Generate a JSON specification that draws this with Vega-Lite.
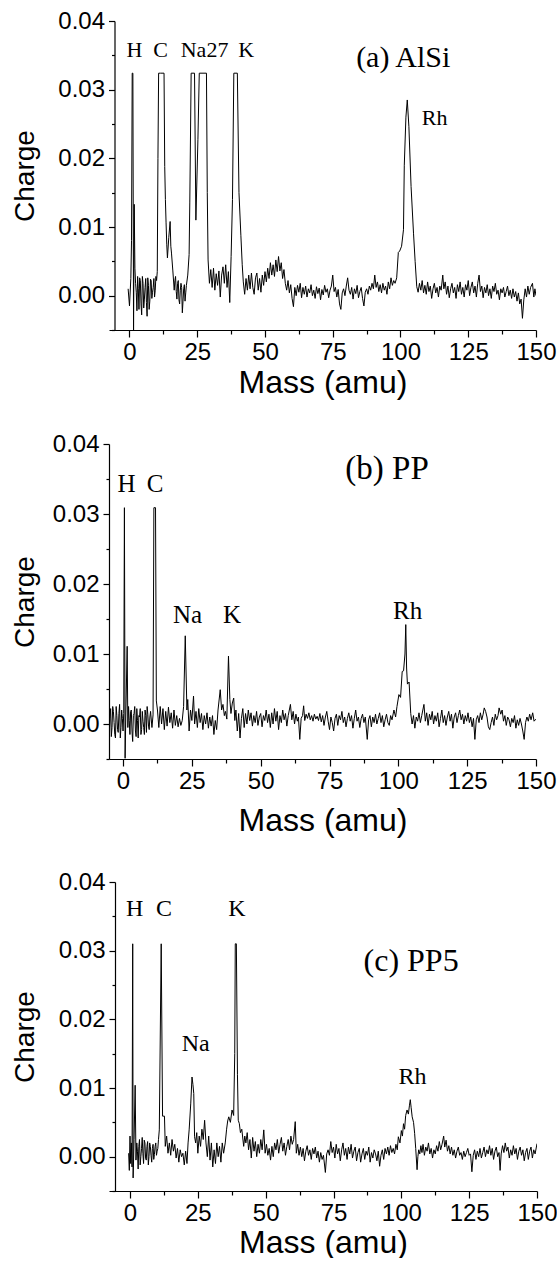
{
"$schema": "https://vega.github.io/schema/vega-lite/v6.json",
"background": "white",
"padding": {"left": 11, "top": 9, "right": 0, "bottom": 0},
"config": {
 "view": {"stroke": null},
 "axis": {"domainColor": "black", "tickColor": "black", "labelColor": "black", "titleColor": "black", "labelFont": "Liberation Sans", "titleFont": "Liberation Sans", "labelFontSize": 24, "titleFontWeight": "normal", "grid": false, "domainWidth": 1.2, "tickWidth": 1.2, "labelFlush": false, "labelOverlap": false}
},
"datasets": {
 "a": [
{"m":-0.5,"q":0.001},{"m":0,"q":-0.0015},{"m":0.5,"q":0.0025},{"m":0.75,"q":0.008},{"m":1,"q":0.0324},{"m":1.25,"q":0.0324},{"m":1.5,"q":-0.0052},{"m":1.75,"q":0.0133},{"m":2,"q":0.004},{"m":2.5,"q":0.0005},{"m":3,"q":0.0028},{"m":3.5,"q":-0.002},{"m":4,"q":0.0022},{"m":4.5,"q":-0.0028},{"m":5,"q":0.0018},{"m":5.5,"q":-0.0005},{"m":6,"q":0.0025},{"m":6.5,"q":-0.003},{"m":7,"q":0.0015},{"m":7.5,"q":-0.0008},{"m":8,"q":0.0022},{"m":8.5,"q":0.0005},{"m":9,"q":0.0025},{"m":9.5,"q":0.0008},{"m":10,"q":0.0022},{"m":10.25,"q":0.0035},{"m":10.5,"q":0.02},{"m":10.75,"q":0.0324},{"m":11.5,"q":0.0324},{"m":12.75,"q":0.0324},{"m":13,"q":0.0188},{"m":13.25,"q":0.014},{"m":13.5,"q":0.0106},{"m":13.75,"q":0.0075},{"m":14,"q":0.0055},{"m":14.5,"q":0.0085},{"m":15,"q":0.0108},{"m":15.25,"q":0.0072},{"m":15.5,"q":0.0062},{"m":16,"q":0.0036},{"m":16.5,"q":0.0008},{"m":17,"q":0.0028},{"m":17.5,"q":-0.0005},{"m":18,"q":0.0022},{"m":18.5,"q":-0.0012},{"m":19,"q":0.0018},{"m":19.5,"q":-0.0025},{"m":20,"q":0.001},{"m":20.5,"q":-0.0008},{"m":21,"q":0.0015},{"m":21.5,"q":0.003},{"m":22,"q":0.006},{"m":22.25,"q":0.0135},{"m":22.75,"q":0.0324},{"m":24,"q":0.0324},{"m":24.5,"q":0.011},{"m":25.25,"q":0.0227},{"m":25.75,"q":0.0324},{"m":28.4,"q":0.0324},{"m":28.7,"q":0.015},{"m":29,"q":0.0052},{"m":29.5,"q":0.0018},{"m":30,"q":0.0038},{"m":30.5,"q":0.0012},{"m":31,"q":0.004},{"m":31.5,"q":0.0008},{"m":32,"q":0.0032},{"m":32.5,"q":0.0015},{"m":33,"q":0.0036},{"m":33.5,"q":-0.0002},{"m":34,"q":0.003},{"m":34.5,"q":0.0042},{"m":35,"q":0.0018},{"m":35.5,"q":0.0045},{"m":36,"q":0.0012},{"m":36.5,"q":0.0035},{"m":37,"q":-0.001},{"m":37.5,"q":0.0057},{"m":38,"q":0.014},{"m":38.5,"q":0.0324},{"m":39.8,"q":0.0324},{"m":40.4,"q":0.015},{"m":41.1,"q":0.0088},{"m":41.6,"q":0.0045},{"m":42,"q":0.002},{"m":42.5,"q":0.0002},{"m":43,"q":0.0025},{"m":43.5,"q":0.0008},{"m":44,"q":0.003},{"m":44.5,"q":0.001},{"m":45,"q":0.0033},{"m":45.5,"q":0.0012},{"m":46,"q":0.0002},{"m":46.5,"q":0.0026},{"m":47,"q":0.0033},{"m":47.5,"q":0.0008},{"m":48,"q":0.0025},{"m":48.5,"q":0.0005},{"m":49,"q":0.003},{"m":49.5,"q":0.0015},{"m":50,"q":0.0035},{"m":50.5,"q":0.002},{"m":51,"q":0.004},{"m":51.5,"q":0.0025},{"m":52,"q":0.0048},{"m":52.5,"q":0.003},{"m":53,"q":0.0045},{"m":53.5,"q":0.0028},{"m":54,"q":0.0052},{"m":54.5,"q":0.0035},{"m":55,"q":0.0057},{"m":55.5,"q":0.0036},{"m":56,"q":0.0048},{"m":56.5,"q":0.0025},{"m":57,"q":0.0038},{"m":57.5,"q":0.0018},{"m":58,"q":0.0008},{"m":58.5,"q":0.0022},{"m":59,"q":0.0004},{"m":59.5,"q":0.0016},{"m":60,"q":-0.0004},{"m":60.5,"q":-0.0016},
{"m":61,"q":0.0012},{"m":61.5,"q":0},{"m":62,"q":0.0015},{"m":62.5,"q":0.0005},{"m":63,"q":0.0018},{"m":63.5,"q":-0.0003},{"m":64,"q":0.0012},{"m":64.5,"q":0.0002},{"m":65,"q":0.0014},{"m":65.5,"q":-0.0002},{"m":66,"q":0.001},{"m":66.5,"q":0.0004},{"m":67,"q":0.0016},{"m":67.5,"q":0},{"m":68,"q":0.0008},{"m":68.5,"q":-0.0004},{"m":69,"q":0.0013},{"m":69.5,"q":0.0003},{"m":70,"q":0.0011},{"m":70.5,"q":-0.0006},{"m":71,"q":0.0009},{"m":71.5,"q":0.0001},{"m":72,"q":0.0015},{"m":72.5,"q":0.0005},{"m":73,"q":0.001},{"m":73.5,"q":-0.0003},{"m":74,"q":0.0008},{"m":74.5,"q":0.0014},{"m":75,"q":0.003},{"m":75.5,"q":0.0006},{"m":76,"q":0.0012},{"m":76.5,"q":-0.0002},{"m":77,"q":0.0009},{"m":77.5,"q":-0.0012},{"m":78,"q":-0.002},{"m":78.5,"q":0.0004},{"m":79,"q":0.001},{"m":79.5,"q":0},{"m":80,"q":0.0014},{"m":80.5,"q":0.0026},{"m":81,"q":0.0008},{"m":81.5,"q":0.0002},{"m":82,"q":0.0012},{"m":82.5,"q":-0.0005},{"m":83,"q":0.001},{"m":83.5,"q":0.0003},{"m":84,"q":0.0015},{"m":84.5,"q":-0.0003},{"m":85,"q":0.0006},{"m":85.5,"q":0.0012},{"m":86,"q":-0.0004},{"m":86.5,"q":-0.0015},{"m":87,"q":0.0005},{"m":87.5,"q":0.001},{"m":88,"q":0.0002},{"m":88.5,"q":0.0014},{"m":89,"q":0.0008},{"m":89.5,"q":0.0018},{"m":90,"q":0.001},{"m":90.5,"q":0.003},{"m":91,"q":0.0012},{"m":91.5,"q":0.002},{"m":92,"q":0.0006},{"m":92.5,"q":0.0016},{"m":93,"q":0.0004},{"m":93.5,"q":0.0018},{"m":94,"q":0.0008},{"m":94.5,"q":0.0014},{"m":95,"q":0.0002},{"m":95.5,"q":0.002},{"m":96,"q":0.001},{"m":96.5,"q":0.0026},{"m":97,"q":0.0015},{"m":97.5,"q":0.0022},{"m":98,"q":0.0018},{"m":98.6,"q":0.0026},{"m":99.2,"q":0.0063},{"m":99.7,"q":0.0065},{"m":100.4,"q":0.0072},{"m":101.1,"q":0.0096},{"m":101.4,"q":0.019},{"m":102,"q":0.026},{"m":102.5,"q":0.0285},{"m":103.1,"q":0.0246},{"m":103.9,"q":0.0159},{"m":104.8,"q":0.0091},{"m":105.4,"q":0.005},{"m":106,"q":0.0013},
{"m":106.5,"q":0.0005},{"m":107,"q":0.0018},{"m":107.5,"q":0.0008},{"m":108,"q":0.0022},{"m":108.5,"q":0.0004},{"m":109,"q":0.0015},{"m":109.5,"q":0.0002},{"m":110,"q":0.002},{"m":110.5,"q":0.0006},{"m":111,"q":0.0014},{"m":111.5,"q":-0.0004},{"m":112,"q":0.001},{"m":112.5,"q":0.0018},{"m":113,"q":0.0004},{"m":113.5,"q":0.0012},{"m":114,"q":-0.0002},{"m":114.5,"q":0.0014},{"m":115,"q":0.0008},{"m":115.6,"q":0.003},{"m":116,"q":0.001},{"m":116.5,"q":0.002},{"m":117,"q":0.0002},{"m":117.5,"q":0.0014},{"m":118,"q":-0.0003},{"m":118.5,"q":0.001},{"m":119,"q":0.0018},{"m":119.5,"q":0.0004},{"m":120,"q":0.0012},{"m":120.5,"q":-0.0004},{"m":121,"q":0.0016},{"m":121.5,"q":0.0006},{"m":122,"q":0.002},{"m":122.5,"q":0.0002},{"m":123,"q":0.0012},{"m":123.5,"q":-0.0002},{"m":124,"q":0.0016},{"m":124.5,"q":0.0008},{"m":125,"q":0.0022},{"m":125.5,"q":0},{"m":126,"q":0.0012},{"m":126.5,"q":0.002},{"m":127,"q":0.0004},{"m":127.5,"q":0.0014},{"m":128,"q":-0.0002},{"m":128.5,"q":0.0018},{"m":129,"q":0.003},{"m":129.5,"q":0.0006},{"m":130,"q":0.0014},{"m":130.5,"q":-0.0003},{"m":131,"q":0.0012},{"m":131.5,"q":0.0004},{"m":132,"q":0.0016},{"m":132.5,"q":0},{"m":133,"q":0.001},{"m":133.5,"q":-0.0004},{"m":134,"q":0.0014},{"m":134.5,"q":0.0006},{"m":135,"q":0.0018},{"m":135.5,"q":0.0002},{"m":136,"q":0.0008},{"m":136.5,"q":-0.0006},{"m":137,"q":0.001},{"m":137.5,"q":0.0004},{"m":138,"q":0.0012},{"m":138.5,"q":-0.0002},{"m":139,"q":0.0006},{"m":139.5,"q":0.0014},{"m":140,"q":0},{"m":140.5,"q":0.0008},{"m":141,"q":-0.0004},{"m":141.5,"q":0.001},{"m":142,"q":-0.0002},{"m":142.5,"q":0.0006},{"m":143,"q":-0.0008},{"m":143.5,"q":0.0004},{"m":144,"q":-0.0012},{"m":144.5,"q":-0.0005},{"m":145,"q":-0.0033},{"m":145.5,"q":-0.0006},{"m":146,"q":0.001},{"m":146.5,"q":-0.0002},{"m":147,"q":0.0014},{"m":147.5,"q":0.0002},{"m":148,"q":0.0012},{"m":148.7,"q":0.0018},{"m":149.2,"q":-0.0002},{"m":149.6,"q":0.001},{"m":150,"q":0},
{"m":2.25,"q":0.0018},{"m":2.75,"q":-0.0022},{"m":3.25,"q":0.001},{"m":3.75,"q":0.0026},{"m":4.25,"q":-0.0012},{"m":4.75,"q":0.0028},{"m":5.25,"q":-0.0018},{"m":5.75,"q":0.0012},{"m":6.25,"q":-0.001},{"m":6.75,"q":0.0026},{"m":7.25,"q":-0.002},{"m":7.75,"q":0.0024},{"m":8.25,"q":-0.0004},{"m":8.75,"q":0.0012},{"m":9.25,"q":-0.0002},{"m":9.75,"q":0.0028},{"m":16.75,"q":0.0022},{"m":17.25,"q":0.0006},{"m":17.75,"q":0.0018},{"m":18.25,"q":-0.0006},{"m":18.75,"q":0.0008},{"m":19.25,"q":0.0012},{"m":19.75,"q":-0.0008},{"m":20.25,"q":0.0016},{"m":20.75,"q":0.0004}
 ],
 "b": [
{"m":-5.3,"q":0.001},{"m":-5,"q":-0.0012},{"m":-4.5,"q":0.0022},{"m":-4,"q":-0.0005},{"m":-3.5,"q":0.0018},{"m":-3,"q":-0.0015},{"m":-2.5,"q":0.0025},{"m":-2,"q":-0.0008},{"m":-1.5,"q":0.0015},{"m":-1,"q":-0.002},{"m":-0.5,"q":0.002},{"m":0,"q":-0.001},{"m":0.25,"q":0.0015},{"m":0.5,"q":0.0309},{"m":0.75,"q":-0.0049},{"m":1,"q":0.001},{"m":1.5,"q":0.0111},{"m":1.75,"q":-0.0005},{"m":2,"q":0.0025},{"m":2.5,"q":-0.0015},{"m":3,"q":0.002},{"m":3.5,"q":-0.0025},{"m":4,"q":0.0015},{"m":4.5,"q":-0.001},{"m":5,"q":0.0022},{"m":5.5,"q":-0.002},{"m":6,"q":0.001},{"m":6.5,"q":-0.0015},{"m":7,"q":0.0018},{"m":7.5,"q":-0.0005},{"m":8,"q":0.002},{"m":8.5,"q":-0.0012},{"m":9,"q":0.0014},{"m":9.5,"q":-0.0008},{"m":10,"q":0.0018},{"m":10.5,"q":-0.0005},{"m":10.9,"q":0.0013},{"m":11.2,"q":0.0309},{"m":11.8,"q":0.0309},{"m":12.1,"q":0.0033},{"m":12.5,"q":0.002},{"m":13,"q":-0.0005},{"m":13.5,"q":0.0025},{"m":14,"q":0},{"m":14.5,"q":0.0022},{"m":15,"q":-0.0008},{"m":15.5,"q":0.0018},{"m":16,"q":-0.0003},{"m":16.5,"q":0.0024},{"m":17,"q":0.0002},{"m":17.5,"q":0.0016},{"m":18,"q":-0.0006},{"m":18.5,"q":0.002},{"m":19,"q":-0.0002},{"m":19.5,"q":0.0012},{"m":20,"q":-0.0004},{"m":20.5,"q":0.0008},{"m":21,"q":-0.0002},{"m":21.5,"q":0.0005},{"m":22,"q":0.0025},{"m":22.6,"q":0.0126},{"m":23.2,"q":0.002},{"m":23.5,"q":0.0035},{"m":24,"q":-0.001},{"m":24.5,"q":0.002},{"m":25,"q":0.0005},{"m":25.6,"q":0.004},{"m":26,"q":0},{"m":26.5,"q":0.0018},{"m":27,"q":-0.0005},{"m":27.5,"q":0.0022},{"m":28,"q":0.0002},{"m":28.5,"q":0.0015},{"m":29,"q":-0.0008},{"m":29.5,"q":0.0012},{"m":30,"q":0},{"m":30.5,"q":0.0016},{"m":31,"q":-0.0006},{"m":31.5,"q":0.001},{"m":32,"q":-0.0003},{"m":32.5,"q":0.0012},{"m":33,"q":-0.0015},{"m":33.5,"q":0.0005},{"m":34,"q":-0.0008},{"m":34.5,"q":0.002},{"m":35.3,"q":0.0049},{"m":35.8,"q":0.002},{"m":36.3,"q":0.0028},{"m":36.8,"q":0.0012},{"m":37.2,"q":0.0018},{"m":37.7,"q":0.0007},{"m":38.3,"q":0.0097},{"m":38.8,"q":0.0035},{"m":39.2,"q":0.0015},{"m":39.7,"q":0.003},{"m":40.2,"q":0.0037},{"m":40.6,"q":0.0005},{"m":41,"q":0.002},{"m":41.5,"q":-0.001},{"m":42,"q":0.0015},{"m":42.5,"q":-0.002},{"m":43,"q":0.0008},{"m":43.5,"q":0.0022},{"m":44,"q":-0.0005},{"m":44.5,"q":0.0015},{"m":45,"q":0},{"m":45.5,"q":0.002},{"m":46,"q":0.0005},{"m":46.5,"q":0.0016},{"m":47,"q":-0.0003},{"m":47.5,"q":0.0012},{"m":48,"q":0.0002},{"m":48.5,"q":0.0018},{"m":49,"q":-0.0002},{"m":49.5,"q":0.001},{"m":50,"q":0.0015},{"m":50.5,"q":-0.0004},{"m":51,"q":0.0012},{"m":51.5,"q":0.0005},{"m":52,"q":0.002},{"m":52.5,"q":0.0002},{"m":53,"q":0.0014},{"m":53.5,"q":-0.0005},{"m":54,"q":0.0016},{"m":54.5,"q":0},{"m":55,"q":0.0022},{"m":55.5,"q":0.0004},{"m":56,"q":0.0018},{"m":56.5,"q":-0.0008},{"m":57,"q":0.0012},{"m":57.5,"q":0.0002},{"m":58,"q":0.002},{"m":58.5,"q":0.0006},{"m":59,"q":0.0015},{"m":59.5,"q":-0.0003},{"m":60,"q":0.0012},{"m":60.8,"q":0.0028},{"m":61.3,"q":0.0006},{"m":61.8,"q":0.0018},{"m":62.3,"q":0},{"m":62.8,"q":0.0014},{"m":63.3,"q":0.0004},{"m":63.7,"q":0.001},{"m":64.2,"q":-0.0022},{"m":64.7,"q":0.0008},{"m":65.2,"q":0.0012},{"m":65.6,"q":0.0026},{"m":66,"q":0.0005},{"m":66.5,"q":0.0014},{"m":67,"q":0.0008},{"m":67.5,"q":0.0016},{"m":68,"q":0.0006},{"m":68.5,"q":0.0012},{"m":69,"q":0.0004},{"m":69.5,"q":0.0014},{"m":70,"q":0.0007},{"m":70.5,"q":0.0011},{"m":71,"q":0.0005},{"m":71.5,"q":0.0015},{"m":72,"q":0.0003},{"m":72.5,"q":0.0012},{"m":73,"q":-0.0002},{"m":73.5,"q":0.001},{"m":74,"q":0.0018},{"m":74.5,"q":0.0004},{"m":75,"q":-0.0008},{"m":75.5,"q":0.001},{"m":76,"q":0.0002},{"m":76.5,"q":-0.001},{"m":77,"q":0.0008},{"m":77.5,"q":0.0014},{"m":78,"q":-0.0002},{"m":78.5,"q":0.0012},{"m":79,"q":0.0006},{"m":79.5,"q":0.0018},{"m":80,"q":0.0002},{"m":80.5,"q":0.001},{"m":81,"q":-0.0004},{"m":81.5,"q":0.0008},{"m":82,"q":0.0016},{"m":82.5,"q":0.0004},{"m":83,"q":0.0012},{"m":83.5,"q":-0.0006},{"m":84,"q":0.0008},{"m":84.5,"q":0.002},{"m":85,"q":0.0004},{"m":85.5,"q":0.001},{"m":86,"q":-0.0005},{"m":86.5,"q":0.0008},{"m":87,"q":0.0014},{"m":87.5,"q":0.0002},{"m":88,"q":0.001},{"m":88.7,"q":-0.0022},{"m":89.2,"q":0.0006},{"m":89.7,"q":0.0012},{"m":90.2,"q":-0.0004},{"m":90.7,"q":0.001},{"m":91.2,"q":0.0002},{"m":91.7,"q":0.0014},{"m":92.2,"q":0},{"m":92.7,"q":0.0008},{"m":93.2,"q":0.0016},{"m":93.7,"q":0.0002},{"m":94.2,"q":0.0012},{"m":94.7,"q":-0.0004},{"m":95.2,"q":0.0006},{"m":95.7,"q":0.0014},{"m":96.2,"q":0.0002},{"m":96.7,"q":-0.0002},{"m":97.2,"q":0.0012},{"m":97.7,"q":0.0006},{"m":98.4,"q":0.002},{"m":99,"q":0.001},{"m":99.5,"q":0.0025},{"m":100.2,"q":0.0042},{"m":100.8,"q":0.0038},{"m":101.4,"q":0.0075},{"m":101.9,"q":0.0076},{"m":102.4,"q":0.01},{"m":102.7,"q":0.0142},{"m":103,"q":0.008},{"m":103.3,"q":0.0057},{"m":103.9,"q":0.006},{"m":104.5,"q":0.0015},{"m":105,"q":0},{"m":105.5,"q":0.0012},{"m":106,"q":-0.0006},{"m":106.5,"q":0.001},{"m":107,"q":0.0004},{"m":107.5,"q":0.0016},{"m":108,"q":0.0002},{"m":108.5,"q":0.0012},{"m":109.3,"q":0.0028},{"m":109.8,"q":0.0004},{"m":110.3,"q":0.0016},{"m":110.8,"q":-0.0002},{"m":111.3,"q":0.0014},{"m":111.8,"q":0.0006},{"m":112.3,"q":0.0018},{"m":112.8,"q":0},{"m":113.3,"q":0.0012},{"m":113.8,"q":0.0004},{"m":114.3,"q":0.0016},{"m":114.8,"q":-0.0004},{"m":115.3,"q":0.0008},{"m":115.8,"q":0.002},{"m":116.3,"q":0.0002},{"m":116.8,"q":0.0012},{"m":117.3,"q":-0.0002},{"m":117.8,"q":0.001},{"m":118.3,"q":0.0018},{"m":118.8,"q":0.0004},{"m":119.3,"q":0.0014},{"m":119.8,"q":-0.0006},{"m":120.3,"q":0.001},{"m":120.8,"q":0.0016},{"m":121.3,"q":0.0002},{"m":121.8,"q":0.0012},{"m":122.3,"q":0.002},{"m":122.8,"q":0.0006},{"m":123.3,"q":0.0014},{"m":123.8,"q":0},{"m":124.3,"q":0.0012},{"m":124.8,"q":0.0004},{"m":125.3,"q":0.0016},{"m":125.8,"q":0.0002},{"m":126.3,"q":0.001},{"m":126.8,"q":-0.0004},{"m":127.3,"q":0.0008},{"m":127.8,"q":-0.0022},{"m":128.3,"q":0.0006},{"m":128.8,"q":0.0012},{"m":129.3,"q":0.0002},{"m":129.8,"q":0.0016},{"m":130.3,"q":0.0006},{"m":130.8,"q":0.0014},{"m":131.2,"q":0.0023},{"m":131.7,"q":0.0018},{"m":132.2,"q":0.001},{"m":132.7,"q":-0.0004},{"m":133.2,"q":-0.0008},{"m":133.7,"q":0.0002},{"m":134.2,"q":0.001},{"m":134.7,"q":-0.0002},{"m":135.2,"q":0.0014},{"m":135.7,"q":0.0006},{"m":136.2,"q":0.0012},{"m":136.6,"q":0.0023},{"m":137.2,"q":0.0014},{"m":137.7,"q":0.002},{"m":138.2,"q":0.0004},{"m":138.7,"q":0.0012},{"m":139.2,"q":-0.0002},{"m":139.7,"q":0.001},{"m":140.2,"q":0.0006},{"m":140.7,"q":-0.0004},{"m":141.2,"q":0.0008},{"m":141.7,"q":0.0002},{"m":142.2,"q":0.0012},{"m":142.7,"q":-0.0006},{"m":143.2,"q":0.0006},{"m":143.7,"q":-0.0002},{"m":144.2,"q":0.0008},{"m":144.7,"q":0},{"m":145.2,"q":-0.001},{"m":145.7,"q":-0.0022},{"m":146.2,"q":0.0002},{"m":146.7,"q":0.001},{"m":147.2,"q":0.0004},{"m":147.7,"q":0.0014},{"m":148.2,"q":0.0006},{"m":148.8,"q":0.0016},{"m":149.3,"q":0.0004},{"m":150,"q":0.0007},
{"m":-4.75,"q":0.0008},{"m":-4.25,"q":-0.0018},{"m":-3.75,"q":0.0025},{"m":-3.25,"q":0.0002},{"m":-2.75,"q":-0.002},{"m":-2.25,"q":0.0012},{"m":-1.75,"q":-0.0012},{"m":-1.25,"q":0.0028},{"m":-0.75,"q":-0.0005},{"m":-0.25,"q":0.0008},{"m":2.25,"q":0.0005},{"m":2.75,"q":0.0018},{"m":3.25,"q":-0.001},{"m":3.75,"q":0.0012},{"m":4.25,"q":0.0025},{"m":4.75,"q":-0.0018},{"m":5.25,"q":0.0005},{"m":5.75,"q":0.0012},{"m":6.25,"q":0.0022},{"m":6.75,"q":-0.0008},{"m":7.25,"q":0.0004},{"m":7.75,"q":-0.0015},{"m":8.25,"q":0.0012},{"m":8.75,"q":0.0025},{"m":9.25,"q":-0.0003},{"m":9.75,"q":0.001}
 ],
 "c": [
{"m":-0.5,"q":0.0005},{"m":-0.25,"q":-0.002},{"m":0,"q":0.003},{"m":0.25,"q":-0.001},{"m":0.5,"q":0.002},{"m":0.75,"q":-0.0015},{"m":1,"q":0.031},{"m":1.15,"q":-0.0031},{"m":1.5,"q":0.0025},{"m":1.9,"q":0.0104},{"m":2.2,"q":-0.0005},{"m":2.5,"q":0.002},{"m":3,"q":-0.0018},{"m":3.5,"q":0.0025},{"m":4,"q":0},{"m":4.5,"q":0.0028},{"m":5,"q":-0.001},{"m":5.5,"q":0.002},{"m":6,"q":-0.0005},{"m":6.5,"q":0.0022},{"m":7,"q":0},{"m":7.5,"q":0.0015},{"m":8,"q":-0.0008},{"m":8.5,"q":0.0018},{"m":9,"q":0.0003},{"m":9.5,"q":0.002},{"m":10,"q":0.0008},{"m":10.5,"q":0.0025},{"m":10.8,"q":0.0039},{"m":11.5,"q":0.031},{"m":12,"q":0.0059},{"m":12.7,"q":0.0059},{"m":13,"q":0.0015},{"m":13.5,"q":0.003},{"m":14,"q":0.0005},{"m":14.5,"q":0.002},{"m":15,"q":0.0002},{"m":15.5,"q":0.0025},{"m":16,"q":0.0008},{"m":16.5,"q":0.0018},{"m":17,"q":-0.0002},{"m":17.5,"q":0.0012},{"m":18,"q":-0.0008},{"m":18.5,"q":0.001},{"m":19,"q":0},{"m":19.5,"q":0.0005},{"m":20,"q":-0.0012},{"m":20.5,"q":0.0008},{"m":21,"q":-0.001},{"m":21.4,"q":0.002},{"m":21.8,"q":0.0039},{"m":22.4,"q":0.0078},{"m":22.85,"q":0.0116},{"m":23.2,"q":0.0105},{"m":23.5,"q":0.0092},{"m":23.8,"q":0.0029},{"m":24.2,"q":0.002},{"m":24.6,"q":0.0035},{"m":25,"q":0.0005},{"m":25.5,"q":0.003},{"m":26,"q":0.0015},{"m":26.5,"q":0.004},{"m":27,"q":0.0025},{"m":27.5,"q":0.0053},{"m":28,"q":0.002},{"m":28.5,"q":0},{"m":29,"q":0.003},{"m":29.5,"q":-0.0005},{"m":30,"q":0.002},{"m":30.5,"q":-0.0015},{"m":31,"q":0.001},{"m":31.5,"q":-0.001},{"m":32,"q":0.002},{"m":32.5,"q":0},{"m":33,"q":0.0015},{"m":33.5,"q":-0.0008},{"m":34,"q":0.002},{"m":34.5,"q":0.0005},{"m":35.1,"q":0.002},{"m":35.6,"q":0.004},{"m":36,"q":0.0052},{"m":36.4,"q":0.0058},{"m":37,"q":0.005},{"m":37.6,"q":0.0068},{"m":38.2,"q":0.006},{"m":38.6,"q":0.015},{"m":38.8,"q":0.031},{"m":39.2,"q":0.031},{"m":39.6,"q":0.012},{"m":39.9,"q":0.0053},{"m":40.3,"q":0.0048},{"m":40.7,"q":0.0035},{"m":41.2,"q":0.004},{"m":41.9,"q":0.0015},{"m":42.3,"q":0.003},{"m":42.7,"q":0.002},{"m":43.2,"q":0.0035},{"m":43.7,"q":0.001},{"m":44.2,"q":0.0025},{"m":44.7,"q":-0.0002},{"m":45.2,"q":0.0028},{"m":45.7,"q":0.0008},{"m":46.2,"q":0.0022},{"m":46.7,"q":0},{"m":47.2,"q":0.0018},{"m":47.7,"q":0.0005},{"m":48.2,"q":0.0025},{"m":48.7,"q":0.001},{"m":49.3,"q":0.0039},{"m":49.8,"q":0.0005},{"m":50.3,"q":0.0018},{"m":50.8,"q":0.0002},{"m":51.3,"q":0.0012},{"m":51.8,"q":-0.0005},{"m":52.3,"q":0.0015},{"m":52.8,"q":0},{"m":53.3,"q":0.002},{"m":53.8,"q":0.001},{"m":54.3,"q":0.0025},{"m":54.8,"q":0.0005},{"m":55.3,"q":0.0018},{"m":55.8,"q":0.0028},{"m":56.3,"q":0.0008},{"m":56.8,"q":0.002},{"m":57.3,"q":0.0002},{"m":57.8,"q":0.0015},{"m":58.3,"q":0.0025},{"m":58.8,"q":0.001},{"m":59.3,"q":0.003},{"m":59.8,"q":0.0018},{"m":60.3,"q":0.0025},{"m":60.9,"q":0.0051},{"m":61.3,"q":0.0005},{"m":61.8,"q":0.0018},{"m":62.3,"q":0.0002},{"m":62.8,"q":0.0014},{"m":63.3,"q":0},{"m":63.8,"q":0.0012},{"m":64.3,"q":-0.0006},{"m":64.8,"q":0.0008},{"m":65.3,"q":0.0016},{"m":65.8,"q":0.0002},{"m":66.3,"q":0.001},{"m":66.8,"q":-0.0004},{"m":67.3,"q":0.0012},{"m":67.8,"q":0.0004},{"m":68.3,"q":0.0014},{"m":68.8,"q":-0.0002},{"m":69.3,"q":0.0008},{"m":69.8,"q":-0.0008},{"m":70.3,"q":0.0006},{"m":70.8,"q":-0.0004},{"m":71.3,"q":0.0002},{"m":72,"q":-0.0023},{"m":72.5,"q":0.0004},{"m":73,"q":0.001},{"m":73.5,"q":0.0002},{"m":74,"q":0.0022},{"m":74.5,"q":0.0006},{"m":75,"q":0.0014},{"m":75.5,"q":-0.0002},{"m":76,"q":0.0018},{"m":76.5,"q":0.0004},{"m":77,"q":0.0012},{"m":77.5,"q":-0.0006},{"m":78,"q":0.001},{"m":78.5,"q":0.002},{"m":79,"q":0.0002},{"m":79.5,"q":0.0012},{"m":80,"q":-0.0004},{"m":80.5,"q":0.0014},{"m":81,"q":0.0004},{"m":81.5,"q":0.0018},{"m":82,"q":-0.0002},{"m":82.5,"q":0.0008},{"m":83,"q":0.0014},{"m":83.5,"q":-0.0006},{"m":84,"q":0.0006},{"m":84.5,"q":0.0012},{"m":85,"q":-0.0008},{"m":85.5,"q":0.0004},{"m":86,"q":0.0012},{"m":86.5,"q":-0.0004},{"m":87,"q":0.0008},{"m":87.5,"q":0.0002},{"m":88,"q":0.0014},{"m":88.5,"q":-0.0008},{"m":89,"q":0.0006},{"m":89.5,"q":-0.0002},{"m":90,"q":0.001},{"m":90.5,"q":0.0004},{"m":91,"q":-0.0006},{"m":91.5,"q":0.0008},{"m":92,"q":-0.0014},{"m":92.5,"q":0.0002},{"m":93,"q":0.001},{"m":93.5,"q":-0.0004},{"m":94,"q":0.0012},{"m":94.5,"q":0.0004},{"m":95,"q":0.0014},{"m":95.5,"q":0.0002},{"m":96,"q":0.0016},{"m":96.5,"q":0.0006},{"m":97,"q":0.0012},{"m":97.5,"q":0.0004},{"m":98,"q":0.0018},{"m":98.5,"q":0.001},{"m":98.9,"q":0.0029},{"m":99.5,"q":0.002},{"m":100,"q":0.0038},{"m":100.4,"q":0.003},{"m":100.8,"q":0.0048},{"m":101.2,"q":0.004},{"m":101.6,"q":0.006},{"m":102.1,"q":0.0068},{"m":102.6,"q":0.0062},{"m":103,"q":0.0075},{"m":103.3,"q":0.0083},{"m":103.6,"q":0.0072},{"m":104,"q":0.0058},{"m":104.5,"q":0.005},{"m":104.9,"q":0.0034},{"m":105.3,"q":0.0012},{"m":105.8,"q":-0.0019},{"m":106.1,"q":0},{"m":106.4,"q":0.001},{"m":106.8,"q":0.0004},{"m":107.2,"q":0.0016},{"m":107.6,"q":0.0006},{"m":108,"q":0.0018},{"m":108.5,"q":0.0002},{"m":109,"q":0.0014},{"m":109.5,"q":0.0008},{"m":110,"q":0.002},{"m":110.5,"q":0.0004},{"m":111,"q":0.0012},{"m":111.5,"q":-0.0002},{"m":112,"q":0.001},{"m":112.5,"q":0.0004},{"m":113,"q":0.0016},{"m":113.5,"q":0.0008},{"m":114,"q":0.0022},{"m":114.5,"q":0.001},{"m":115,"q":0.0018},{"m":115.6,"q":0.003},{"m":116,"q":0.0014},{"m":116.5,"q":0.0024},{"m":117,"q":0.0008},{"m":117.5,"q":0.0016},{"m":118,"q":0.0004},{"m":118.5,"q":0.0014},{"m":119,"q":0.0002},{"m":119.5,"q":0.001},{"m":120,"q":-0.0002},{"m":120.5,"q":0.0008},{"m":121,"q":0.0014},{"m":121.5,"q":0.0002},{"m":122,"q":0.0006},{"m":122.5,"q":-0.0004},{"m":123,"q":0.0008},{"m":123.5,"q":0},{"m":124,"q":0.0006},{"m":124.5,"q":0.0012},{"m":125,"q":0.0002},{"m":125.5,"q":0.0004},{"m":126,"q":-0.0022},{"m":126.5,"q":0.0002},{"m":127,"q":0.001},{"m":127.5,"q":-0.0004},{"m":128,"q":0.0008},{"m":128.5,"q":0},{"m":129,"q":0.0012},{"m":129.5,"q":-0.0002},{"m":130,"q":0.0006},{"m":130.5,"q":0.0014},{"m":131,"q":0},{"m":131.5,"q":0.001},{"m":132,"q":0.0004},{"m":132.5,"q":0.0016},{"m":133,"q":0.0002},{"m":133.5,"q":0.0012},{"m":134,"q":-0.0004},{"m":134.5,"q":0.0008},{"m":135,"q":0.0014},{"m":135.5,"q":0},{"m":136,"q":0.0006},{"m":136.4,"q":-0.002},{"m":136.8,"q":0.0004},{"m":137.3,"q":0.0016},{"m":137.8,"q":0.0006},{"m":138.3,"q":0.002},{"m":138.8,"q":0.0008},{"m":139.3,"q":0.0014},{"m":139.8,"q":-0.0002},{"m":140.3,"q":0.001},{"m":140.8,"q":0.0002},{"m":141.3,"q":0.0016},{"m":141.8,"q":0.0004},{"m":142.3,"q":0.0012},{"m":142.8,"q":-0.0004},{"m":143.3,"q":0.0008},{"m":143.8,"q":0.0014},{"m":144.3,"q":0.0002},{"m":144.8,"q":0.001},{"m":145.3,"q":-0.0006},{"m":145.8,"q":0.0006},{"m":146.3,"q":0.0012},{"m":146.8,"q":-0.0004},{"m":147.3,"q":0.0008},{"m":147.8,"q":0.0014},{"m":148.3,"q":-0.0002},{"m":148.8,"q":0.001},{"m":149.3,"q":0.0004},{"m":150,"q":0.0019},
{"m":2.75,"q":0.0008},{"m":3.25,"q":0.0015},{"m":3.75,"q":-0.0012},{"m":4.25,"q":0.0012},{"m":4.75,"q":0.0005},{"m":5.25,"q":0.0024},{"m":5.75,"q":-0.0002},{"m":6.25,"q":0.0015},{"m":6.75,"q":-0.0012},{"m":7.25,"q":0.002},{"m":7.75,"q":0.0002},{"m":8.25,"q":0.0012},{"m":8.75,"q":-0.0004},{"m":9.25,"q":0.0015},{"m":9.75,"q":0.0002},{"m":10.25,"q":0.0012}
 ],
 "ann": [
{"p":"a","k":"el","t":"H","m":1.85,"v":0.0358},{"p":"a","k":"el","t":"C","m":11.5,"v":0.0358},{"p":"a","k":"el","t":"Na27","m":27.7,"v":0.0358},{"p":"a","k":"el","t":"K","m":43.1,"v":0.0358},{"p":"a","k":"el","t":"Rh","m":112.6,"v":0.0259},{"p":"a","k":"title","t":"(a) AlSi","m":101,"v":0.0346},
{"p":"b","k":"el","t":"H","m":1.3,"v":0.0343},{"p":"b","k":"el","t":"C","m":11.6,"v":0.0343},{"p":"b","k":"el","t":"Na","m":23.4,"v":0.0156},{"p":"b","k":"el","t":"K","m":39.6,"v":0.0156},{"p":"b","k":"el","t":"Rh","m":103.4,"v":0.0161},{"p":"b","k":"title","t":"(b) PP","m":95.9,"v":0.0365},
{"p":"c","k":"el","t":"H","m":1.7,"v":0.0361},{"p":"c","k":"el","t":"C","m":12.5,"v":0.0361},{"p":"c","k":"el","t":"K","m":39.4,"v":0.0361},{"p":"c","k":"el","t":"Na","m":24.2,"v":0.0164},{"p":"c","k":"el","t":"Rh","m":104.1,"v":0.0116},{"p":"c","k":"title","t":"(c) PP5","m":103.6,"v":0.0285}
 ]
},
"concat": [
 {
  "width": 427, "height": 309,
  "resolve": {"axis": {"x": "independent", "y": "independent"}},
  "layer": [
   {"data": {"name": "a"}, "mark": {"type": "line", "color": "black", "strokeWidth": 1, "clip": true},
    "encoding": {
     "x": {"field": "m", "type": "quantitative", "scale": {"domain": [-7.56, 150], "nice": false, "zero": false}, "axis": {"values": [0,25,50,75,100,125,150], "title": "Mass (amu)", "titleFontSize": 32, "tickSize": 7, "labelPadding": 3, "titlePadding": 3}},
     "y": {"field": "q", "type": "quantitative", "scale": {"domain": [-0.005, 0.04], "nice": false, "zero": false}, "axis": {"values": [0,0.01,0.02,0.03,0.04], "format": ".2f", "title": "Charge", "titleFontSize": 28, "tickSize": 6, "labelPadding": 4, "titlePadding": 18, "offset": -5.5}}
    }},
   {"data": {"name": "ann"}, "transform": [{"filter": "datum.p == 'a' && datum.k == 'el'"}], "mark": {"type": "text", "font": "Liberation Serif", "fontSize": 22, "color": "black", "baseline": "middle"},
    "encoding": {
     "x": {"field": "m", "type": "quantitative", "axis": {"orient": "bottom", "values": [12.5,37.5,62.5,87.5,112.5,137.5], "labels": false, "domain": false, "title": null, "tickSize": 4}},
     "y": {"field": "v", "type": "quantitative", "axis": {"orient": "left", "values": [-0.005,0.005,0.015,0.025,0.035], "labels": false, "domain": false, "title": null, "tickSize": 3, "offset": -5.5}},
     "text": {"field": "t"}
    }},
   {"data": {"name": "ann"}, "transform": [{"filter": "datum.p == 'a' && datum.k == 'title'"}], "mark": {"type": "text", "font": "Liberation Serif", "fontSize": 30, "color": "black", "baseline": "middle"},
    "encoding": {
     "x": {"field": "m", "type": "quantitative", "axis": null},
     "y": {"field": "v", "type": "quantitative", "axis": null},
     "text": {"field": "t"}
    }}
  ]
 },
 {
  "width": 427, "height": 315,
  "resolve": {"axis": {"x": "independent", "y": "independent"}},
  "layer": [
   {"data": {"name": "b"}, "mark": {"type": "line", "color": "black", "strokeWidth": 1, "clip": true},
    "encoding": {
     "x": {"field": "m", "type": "quantitative", "scale": {"domain": [-5.1, 150], "nice": false, "zero": false}, "axis": {"values": [0,25,50,75,100,125,150], "title": "Mass (amu)", "titleFontSize": 32, "tickSize": 7, "labelPadding": 3, "titlePadding": 12}},
     "y": {"field": "q", "type": "quantitative", "scale": {"domain": [-0.005, 0.04], "nice": false, "zero": false}, "axis": {"values": [0,0.01,0.02,0.03,0.04], "format": ".2f", "title": "Charge", "titleFontSize": 28, "tickSize": 6, "labelPadding": 4, "titlePadding": 13}}
    }},
   {"data": {"name": "ann"}, "transform": [{"filter": "datum.p == 'b' && datum.k == 'el'"}], "mark": {"type": "text", "font": "Liberation Serif", "fontSize": 25, "color": "black", "baseline": "middle"},
    "encoding": {
     "x": {"field": "m", "type": "quantitative", "axis": {"orient": "bottom", "values": [12.5,37.5,62.5,87.5,112.5,137.5], "labels": false, "domain": false, "title": null, "tickSize": 4}},
     "y": {"field": "v", "type": "quantitative", "axis": {"orient": "left", "values": [-0.005,0.005,0.015,0.025,0.035], "labels": false, "domain": false, "title": null, "tickSize": 3}},
     "text": {"field": "t"}
    }},
   {"data": {"name": "ann"}, "transform": [{"filter": "datum.p == 'b' && datum.k == 'title'"}], "mark": {"type": "text", "font": "Liberation Serif", "fontSize": 33, "color": "black", "baseline": "middle"},
    "encoding": {
     "x": {"field": "m", "type": "quantitative", "axis": null},
     "y": {"field": "v", "type": "quantitative", "axis": null},
     "text": {"field": "t"}
    }}
  ]
 },
 {
  "width": 428, "height": 309,
  "resolve": {"axis": {"x": "independent", "y": "independent"}},
  "layer": [
   {"data": {"name": "c"}, "mark": {"type": "line", "color": "black", "strokeWidth": 1, "clip": true},
    "encoding": {
     "x": {"field": "m", "type": "quantitative", "scale": {"domain": [-7.74, 150], "nice": false, "zero": false}, "axis": {"values": [0,25,50,75,100,125,150], "title": "Mass (amu)", "titleFontSize": 32, "tickSize": 7, "labelPadding": 3, "titlePadding": 2}},
     "y": {"field": "q", "type": "quantitative", "scale": {"domain": [-0.005, 0.04], "nice": false, "zero": false}, "axis": {"values": [0,0.01,0.02,0.03,0.04], "format": ".2f", "title": "Charge", "titleFontSize": 28, "tickSize": 6, "labelPadding": 4, "titlePadding": 18.5, "offset": -6}}
    }},
   {"data": {"name": "ann"}, "transform": [{"filter": "datum.p == 'c' && datum.k == 'el'"}], "mark": {"type": "text", "font": "Liberation Serif", "fontSize": 24, "color": "black", "baseline": "middle"},
    "encoding": {
     "x": {"field": "m", "type": "quantitative", "axis": {"orient": "bottom", "values": [12.5,37.5,62.5,87.5,112.5,137.5], "labels": false, "domain": false, "title": null, "tickSize": 4}},
     "y": {"field": "v", "type": "quantitative", "axis": {"orient": "left", "values": [-0.005,0.005,0.015,0.025,0.035], "labels": false, "domain": false, "title": null, "tickSize": 3, "offset": -6}},
     "text": {"field": "t"}
    }},
   {"data": {"name": "ann"}, "transform": [{"filter": "datum.p == 'c' && datum.k == 'title'"}], "mark": {"type": "text", "font": "Liberation Serif", "fontSize": 32, "color": "black", "baseline": "middle"},
    "encoding": {
     "x": {"field": "m", "type": "quantitative", "axis": null},
     "y": {"field": "v", "type": "quantitative", "axis": null},
     "text": {"field": "t"}
    }}
  ]
 }
],
"columns": 1,
"align": "none",
"bounds": "full",
"spacing": 34
}
